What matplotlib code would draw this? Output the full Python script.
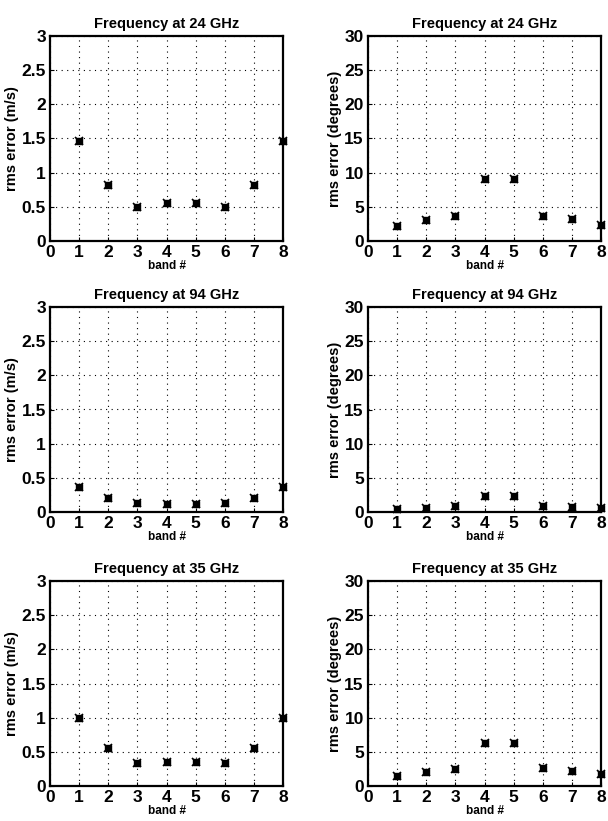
import matplotlib
matplotlib.use('Agg')
import matplotlib.pyplot as plt

plt.rcParams['font.family'] = ['Liberation Sans', 'DejaVu Sans']

bands = [1, 2, 3, 4, 5, 6, 7, 8]
titles = ['Frequency at 24 GHz', 'Frequency at 94 GHz', 'Frequency at 35 GHz']

# rms error in m/s (left column), one list per frequency
vel_24 = [1.47, 0.82, 0.50, 0.55, 0.55, 0.50, 0.82, 1.47]
vel_94 = [0.37, 0.20, 0.13, 0.12, 0.12, 0.13, 0.20, 0.37]
vel_35 = [1.00, 0.56, 0.34, 0.35, 0.35, 0.34, 0.56, 1.00]

# rms error in degrees (right column)
deg_24 = [2.2, 3.0, 3.6, 9.0, 9.0, 3.7, 3.2, 2.4]
deg_94 = [0.5, 0.6, 0.9, 2.3, 2.3, 0.9, 0.7, 0.6]
deg_35 = [1.5, 2.1, 2.5, 6.3, 6.3, 2.6, 2.2, 1.7]

x_ticks = [0, 1, 2, 3, 4, 5, 6, 7, 8]
vel_ticks = [0, 0.5, 1, 1.5, 2, 2.5, 3]
vel_labels = ['0', '0.5', '1', '1.5', '2', '2.5', '3']
deg_ticks = [0, 5, 10, 15, 20, 25, 30]

fig = plt.figure(figsize=(6.08, 8.21), dpi=100)

W, H = 608, 821
lefts = [50, 368]
width = 233
tops = [36, 307, 581]
height = 205

rows = [(vel_24, deg_24), (vel_94, deg_94), (vel_35, deg_35)]


def style(ax, title, ylabel, yticks, ylabels, ymax):
    ax.set_xlim(0, 8)
    ax.set_ylim(0, ymax)
    ax.set_xticks(x_ticks)
    ax.set_yticks(yticks)
    ax.set_yticklabels(ylabels)
    ax.grid(True, linestyle=(0, (1, 4)), color='black', linewidth=0.8)
    ax.tick_params(direction='in', length=3, labelsize=12.5, pad=3)
    for lab in ax.get_xticklabels() + ax.get_yticklabels():
        lab.set_fontweight('bold')
    for sp in ax.spines.values():
        sp.set_linewidth(1.6)
    ax.set_title(title, fontsize=10.5, fontweight='bold', pad=6)
    ax.set_xlabel('band #', fontsize=8.5, fontweight='bold', labelpad=0)
    ax.set_ylabel(ylabel, fontsize=10.5, fontweight='bold', labelpad=2)


def points(ax, y):
    ax.plot(bands, y, linestyle='none', marker='s', markersize=5, color='black', clip_on=False)
    ax.plot(bands, y, linestyle='none', marker='x', markersize=6, color='black', mew=1.2, clip_on=False)


for i, (vel, deg) in enumerate(rows):
    bottom = 1 - (tops[i] + height) / H
    ax1 = fig.add_axes([lefts[0] / W, bottom, width / W, height / H])
    points(ax1, vel)
    style(ax1, titles[i], 'rms error (m/s)', vel_ticks, vel_labels, 3)

    ax2 = fig.add_axes([lefts[1] / W, bottom, width / W, height / H])
    points(ax2, deg)
    style(ax2, titles[i], 'rms error (degrees)', deg_ticks, [str(t) for t in deg_ticks], 30)

fig.savefig('out.png', dpi=100)
